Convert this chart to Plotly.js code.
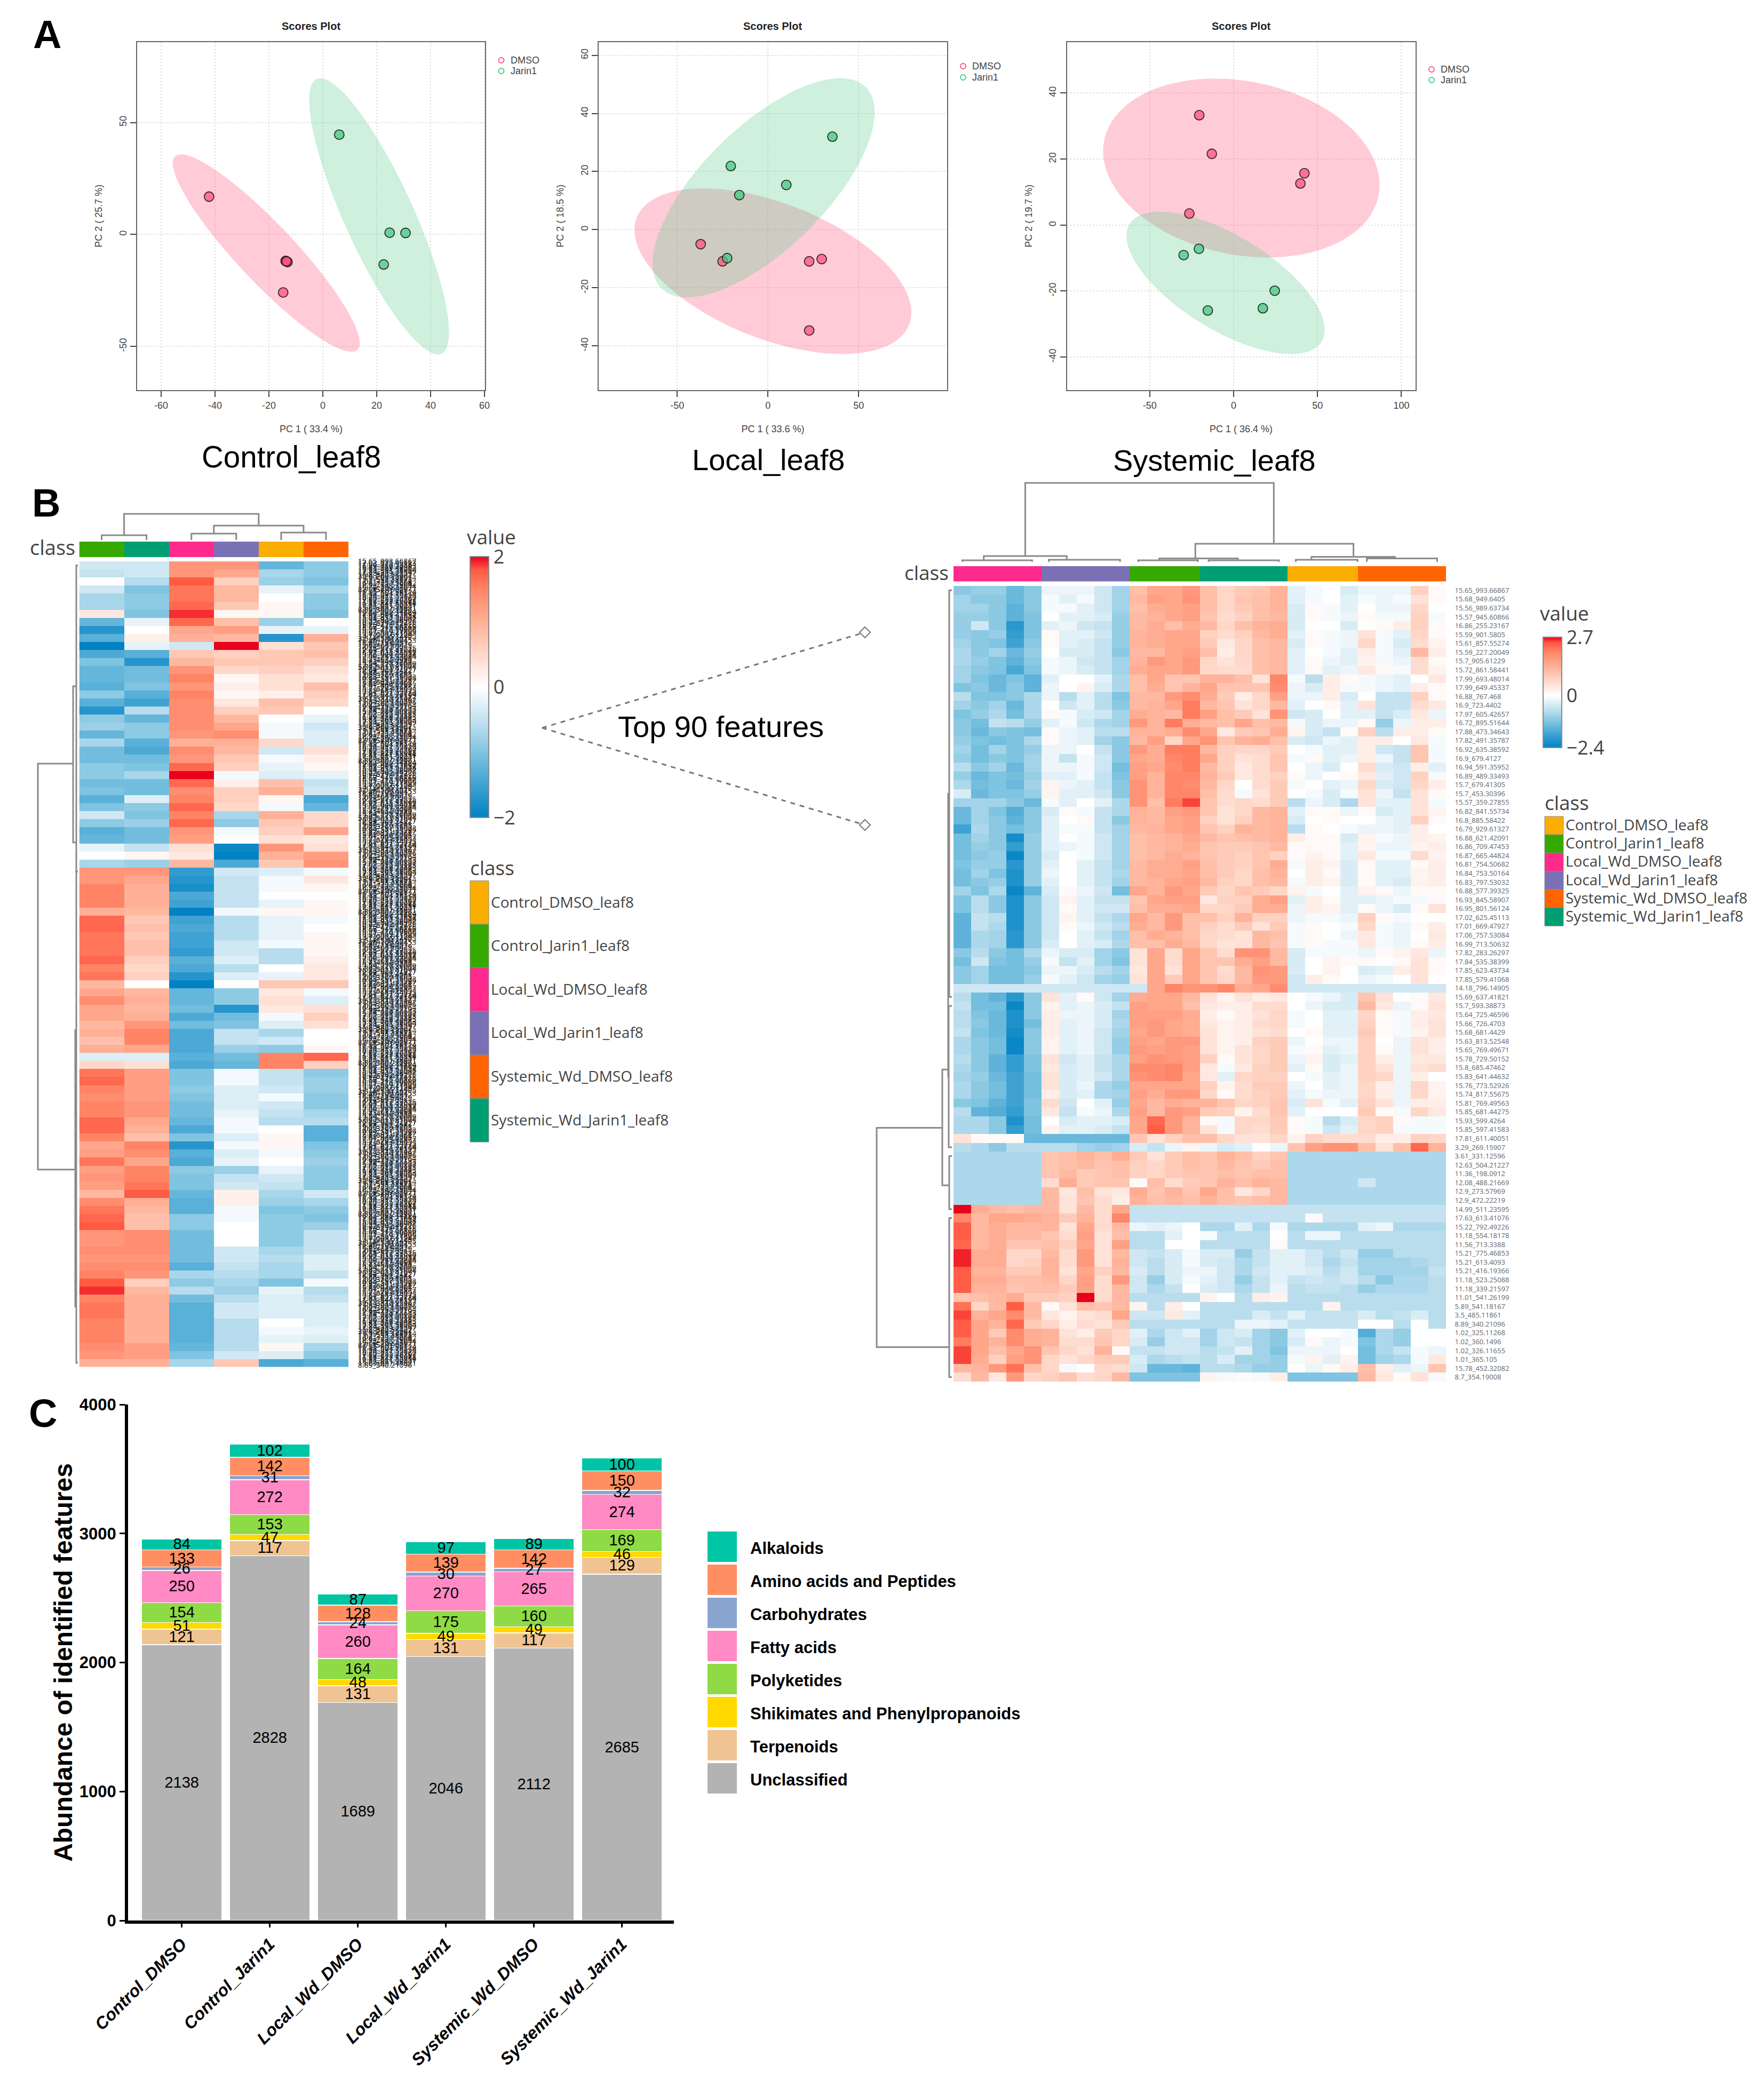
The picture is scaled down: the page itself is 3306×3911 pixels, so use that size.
<!DOCTYPE html>
<html><head><meta charset="utf-8">
<script src="https://cdn.plot.ly/plotly-3.0.1.min.js"></script>
<style>html,body{margin:0;padding:0;background:#fff}</style></head>
<body><div id="chart" style="width:3306px;height:3911px"></div>
<script>
const W=3306,H=3911;
// ---------- Panel A: PCA scores ----------
const pca1DmsoX=[-42.2,-13.8,-13.1,-13.5,-14.7], pca1DmsoY=[16.9,-11.8,-12.3,-12,-25.9];
const pca1JarinX=[6.1,24.8,30.7,22.6], pca1JarinY=[44.6,0.8,0.7,-13.4];
const pca2DmsoX=[-37.1,-25,22.7,29.6,22.7], pca2DmsoY=[-5,-10.9,-10.9,-10.1,-34.7];
const pca2JarinX=[35.5,-20.5,10.1,-15.8,-22.5], pca2JarinY=[32,21.9,15.4,11.9,-9.8];
const pca3DmsoX=[-20.5,-13,42.2,39.8,-26.4], pca3DmsoY=[33.3,21.6,15.7,12.6,3.5];
const pca3JarinX=[-20.7,-29.8,24.5,17.4,-15.4], pca3JarinY=[-7.2,-9.1,-19.9,-25.2,-25.9];
// ellipse: centre x, centre y, half width, half height, correlation
const ell1Dmso=[-21,-8.3,34.7,44.1,-0.91], ell1Jarin=[20.9,8.1,25.96,61.7,-0.84];
const ell2Dmso=[2.7,-14.3,76.3,28.5,-0.5], ell2Jarin=[-2.4,14.4,61.2,37.7,0.69];
const ell3Dmso=[4.6,17.3,82.4,27.1,-0.19], ell3Jarin=[-4.8,-17.5,59.1,21.6,-0.66];
// ---------- Panel C: stacked bars ----------
const barGroups=['Control_DMSO','Control_Jarin1','Local_Wd_DMSO','Local_Wd_Jarin1','Systemic_Wd_DMSO','Systemic_Wd_Jarin1'];
const unclassified=[2138,2828,1689,2046,2112,2685];
const terpenoids=[121,117,131,131,117,129];
const shikimates=[51,47,48,49,49,46];
const polyketides=[154,153,164,175,160,169];
const fattyAcids=[250,272,260,270,265,274];
const carbohydrates=[26,31,24,30,27,32];
const aminoAcids=[133,142,128,139,142,150];
const alkaloids=[84,102,87,97,89,100];
const barNames=['Unclassified','Terpenoids','Shikimates and Phenylpropanoids','Polyketides','Fatty acids','Carbohydrates','Amino acids and Peptides','Alkaloids'];
const barColors=['#b3b3b3','#f0c492','#ffd900','#8edb45','#ff8ac4','#8aa4d0','#ff8f63','#00c5a5'];
// ---------- Panel B: class names ----------
const classNames=['Control_DMSO_leaf8','Control_Jarin1_leaf8','Local_Wd_DMSO_leaf8','Local_Wd_Jarin1_leaf8','Systemic_Wd_DMSO_leaf8','Systemic_Wd_Jarin1_leaf8'];
const classColors=['#f9ae00','#36a900','#ff2a8c','#7a70b5','#ff6400','#009e73'];
const leftClassOrder=[1,5,2,3,0,4];
const rightClassOrder=[2,2,2,2,2,3,3,3,3,3,1,1,1,1,5,5,5,5,5,0,0,0,0,4,4,4,4,4];
// left heatmap, values x10, columns in class order
const leftHeatTenths=[
[-4,-4,13,13,-12,-9],[-5,-4,13,11,-7,-9],[0,-6,18,6,-8,-10],[-4,-10,16,9,-2,-7],[-7,-9,16,9,0,-9],
[-7,-9,17,7,1,-9],[3,-10,19,1,1,-10],[-12,-2,17,8,-8,0],[-17,0,11,12,-2,-2],[-13,2,10,9,-17,10],
[-20,-2,-4,20,4,7],[-14,-13,7,6,7,8],[-10,-17,9,7,7,6],[-12,-11,13,5,6,4],[-12,-11,15,1,4,3],
[-13,-10,13,2,4,8],[-9,-13,15,1,2,6],[-13,-15,14,3,8,5],[-17,-6,14,6,7,0],[-9,-12,14,9,0,-2],
[-8,-9,14,11,-1,-4],[-12,-9,13,14,-1,-3],[-7,-13,10,10,5,-3],[-11,-14,14,9,-4,4],[-11,-11,13,7,-1,2],
[-9,-10,17,6,-2,1],[-9,-7,20,-1,-3,-2],[-11,-11,17,2,8,-5],[-10,-11,14,6,10,-4],[-13,-3,15,6,1,-14],
[-10,-9,17,5,-1,-12],[-4,-10,15,-7,10,5],[-9,-8,17,-9,7,5],[-13,-11,13,-1,6,11],[-12,-11,12,0,4,3],
[-2,-5,4,-19,13,4],[0,1,3,-21,10,12],[-7,-8,9,-14,7,13],[13,13,-16,-4,-3,-1],[13,11,-17,-5,-1,3],
[15,10,-18,-5,-1,1],[15,10,-14,-5,0,0],[15,10,-15,-5,-2,1],[10,9,-21,-1,1,1],[17,7,-15,-6,-2,-1],
[17,8,-14,-6,-2,0],[16,7,-15,-6,-2,1],[16,8,-15,-4,-1,1],[16,8,-16,-4,-6,1],[17,6,-13,-3,-6,2],
[15,5,-14,-6,0,3],[16,6,-17,-3,-2,3],[9,0,-21,0,7,7],[11,9,-12,-9,3,-1],[14,10,-12,-9,4,-3],
[11,9,-11,-17,3,4],[11,10,-14,-11,-1,6],[9,13,-11,-10,-3,4],[10,15,-14,-5,-7,0],[8,15,-14,-5,-4,0],
[10,11,-14,-8,-9,1],[-3,-3,-13,-11,15,17],[5,4,-14,-12,15,6],[16,12,-10,-1,-5,-9],[17,12,-10,-1,-5,-8],
[15,12,-9,-3,-4,-8],[14,12,-10,-3,-1,-9],[15,13,-11,-3,-4,-9],[15,13,-11,-2,-5,-7],[17,11,-12,-1,-6,-6],
[17,10,-14,-1,0,-13],[15,8,-10,-3,1,-13],[11,15,-17,-1,1,-10],[12,14,-13,-3,-1,-9],[16,11,-14,-2,0,-8],
[12,15,-9,-8,-2,-9],[13,15,-10,-5,-4,-9],[12,16,-10,-4,-5,-9],[9,18,-12,2,-7,-4],[14,10,-13,2,-8,-7],
[16,9,-13,-1,-10,-9],[17,8,-9,-1,-9,-10],[18,8,-9,0,-9,-8],[13,14,-11,0,-9,-5],[13,14,-11,0,-9,-5],
[14,14,-11,-4,-7,-5],[13,13,-11,-4,-6,-3],[14,14,-13,-5,-7,-3],[15,13,-7,-6,-7,-5],[18,6,-9,-7,-10,-1],
[19,9,-6,-8,-2,-6],[15,10,-11,-6,-3,-5],[16,10,-13,-4,-3,-3],[16,10,-13,-4,-3,-3],[15,10,-13,-6,0,-3],
[15,10,-13,-6,-1,-2],[15,10,-13,-6,-2,-3],[14,12,-12,-6,1,-7],[13,12,-10,-4,-3,-9],[10,10,-7,7,-14,-13]];
// right heatmap (top 90 features), values x10
const rightRowLabels=['15.65_993.66867','15.68_949.6405','15.56_989.63734','15.57_945.60866','16.86_255.23167','15.59_901.5805','15.61_857.55274','15.59_227.20049','15.7_905.61229','15.72_861.58441','17.99_693.48014','17.99_649.45337','16.88_767.468','16.9_723.4402','17.97_605.42657','16.72_895.51644','17.88_473.34643','17.82_491.35787','16.92_635.38592','16.9_679.4127','16.94_591.35952','16.89_489.33493','15.7_679.41305','15.7_453.30396','15.57_359.27855','16.82_841.55734','16.8_885.58422','16.79_929.61327','16.88_621.42091','16.86_709.47453','16.87_665.44824','16.81_754.50682','16.84_753.50164','16.83_797.53032','16.88_577.39325','16.93_845.58907','16.95_801.56124','17.02_625.45113','17.01_669.47927','17.06_757.53084','16.99_713.50632','17.82_283.26297','17.84_535.38399','17.85_623.43734','17.85_579.41068','14.18_796.14905','15.69_637.41821','15.7_593.38873','15.64_725.46596','15.66_726.4703','15.68_681.4429','15.63_813.52548','15.65_769.49671','15.78_729.50152','15.8_685.47462','15.83_641.44632','15.76_773.52926','15.74_817.55675','15.81_769.49563','15.85_681.44275','15.93_599.4264','15.85_597.41583','17.81_611.40051','3.29_269.15907','3.61_331.12596','12.63_504.21227','11.36_198.0912','12.08_488.21669','12.9_273.57969','12.9_472.22219','14.99_511.23595','17.63_613.41076','15.22_792.49226','11.18_554.18178','11.56_713.3388','15.21_775.46853','15.21_613.4093','15.21_416.19366','11.18_523.25088','11.18_339.21597','11.01_541.26199','5.89_541.18167','3.5_485.11861','8.89_340.21096','1.02_325.11268','1.02_360.1496','1.02_326.11655','1.01_365.105','15.78_452.32082','8.7_354.19008'];
const rightHeatTenths=[
[-11,-10,-10,-14,-11,-2,-2,-2,-5,-9,11,15,15,17,11,7,9,10,13,-3,-1,0,-4,-2,-2,-2,8,1],
[-9,-11,-11,-14,-11,-1,-3,-1,-5,-9,12,16,15,18,11,7,10,11,13,-3,-1,0,-3,-1,-2,-1,5,1],
[-9,-9,-11,-15,-11,-1,-1,-3,-5,-9,11,14,15,16,11,7,9,11,13,-4,1,-1,-3,0,-2,-2,7,0],
[-10,-10,-11,-15,-12,0,-3,-3,-4,-10,12,13,15,16,10,6,8,11,12,-4,1,-1,-2,1,-1,-1,8,-1],
[-10,-5,-11,-20,-12,-3,-2,-5,-6,-10,12,14,11,14,12,7,11,13,14,-4,0,0,-4,0,1,3,8,1],
[-10,-11,-10,-19,-12,1,-3,-3,-5,-10,13,14,15,15,8,6,8,12,14,-3,1,-1,-2,5,-1,-3,7,1],
[-9,-11,-12,-18,-11,1,-3,-4,-6,-10,13,14,15,15,9,4,7,11,12,-4,1,-1,-2,7,-1,-4,6,2],
[-8,-11,-9,-14,-10,0,-4,-4,-6,-11,12,12,15,16,11,3,7,11,12,-3,0,-1,-3,3,-1,-3,12,3],
[-8,-10,-12,-15,-11,-1,-2,-5,-6,-9,13,17,15,17,7,5,7,11,12,-3,1,-2,-3,2,-1,-2,6,1],
[-9,-11,-12,-17,-12,-1,-2,-4,-6,-9,14,15,15,17,7,6,6,11,12,-3,1,-3,-2,4,1,-1,6,2],
[-9,-12,-14,-12,-15,-3,0,0,-3,-8,11,15,10,10,13,13,11,5,20,-1,-7,3,1,-1,-2,-3,0,4],
[-12,-11,-14,-11,-15,-2,0,2,-4,-8,11,14,10,13,15,10,10,10,19,-2,-4,3,-1,-1,-2,-3,3,1],
[-7,-12,-12,-11,-8,-2,-7,-3,-7,-12,12,12,17,19,14,9,3,7,16,-2,-2,3,-4,0,-6,-6,8,1],
[-9,-11,-9,-14,-8,0,-5,-3,-7,-11,12,13,15,21,12,10,5,7,12,-3,0,1,-3,5,-6,-6,6,4],
[-12,-10,-8,-13,-8,1,-1,-4,-5,-9,14,13,12,21,16,11,9,5,18,-5,-4,0,-3,-3,-6,-4,4,-2],
[-11,-13,-6,-7,-10,-3,-1,-5,-8,-9,17,13,21,14,12,11,15,11,12,-1,-4,-2,-2,1,-10,-2,3,3],
[-11,-14,-11,-12,-13,1,-2,-3,-7,-7,13,13,14,19,15,4,9,10,14,2,-4,-6,1,8,-7,3,3,1],
[-10,-12,-13,-12,-8,1,-2,-3,-9,-11,12,16,7,15,18,10,13,14,11,-4,-5,-2,-3,3,3,0,4,-1],
[-9,-13,-9,-12,-10,-2,-2,0,-6,-11,17,14,21,21,12,8,7,7,9,0,-1,-3,-3,3,-5,-6,10,-1],
[-10,-13,-11,-12,-9,-2,-6,-1,-5,-11,15,14,20,21,15,8,5,6,10,-1,1,-3,-2,3,-2,-6,10,-1],
[-7,-11,-9,-14,-9,-2,-2,-1,-5,-13,16,15,19,21,12,8,4,6,10,0,-2,-4,0,6,-4,-5,3,-3],
[-10,-14,-12,-13,-10,-3,-3,-1,-6,-12,16,13,20,20,13,9,4,6,8,1,-2,0,1,4,-3,-5,8,-1],
[-8,-13,-12,-14,-9,2,-2,-3,-6,-11,18,13,20,19,12,7,0,6,9,-1,0,-3,-2,7,-4,-5,7,3],
[-4,-14,-12,-12,-10,2,-3,-3,-5,-11,18,13,20,20,11,6,-1,5,9,0,-1,-4,-1,5,-2,-6,5,1],
[-9,-9,-9,-11,-14,-1,-3,0,-3,-8,18,11,21,25,10,6,7,6,9,-7,-2,-4,-8,5,-3,-3,5,-1],
[-14,-9,-12,-16,-11,-4,1,-1,-6,-8,13,12,16,17,10,5,7,12,13,-3,1,1,-2,1,-4,-3,5,2],
[-14,-9,-11,-15,-11,-3,0,1,-6,-11,13,12,15,16,8,5,8,12,13,-4,0,1,0,0,-2,-3,8,1],
[-18,-8,-11,-13,-11,-3,-1,-1,-6,-9,12,13,15,16,10,8,13,12,13,-7,1,0,-1,-2,-2,-3,3,0],
[-13,-9,-11,-22,-10,-3,0,-1,-5,-9,11,12,13,15,12,10,11,12,13,3,1,1,-4,2,-1,-2,3,2],
[-13,-10,-11,-19,-10,-3,-2,-1,-5,-9,11,12,13,14,10,9,9,10,12,1,1,1,-3,2,-2,-2,2,3],
[-13,-11,-10,-23,-10,-4,0,-1,-5,-9,11,12,14,13,10,9,8,10,8,1,2,1,-3,4,-1,-1,6,2],
[-12,-10,-10,-20,-10,-3,0,-3,-6,-9,12,14,14,16,11,9,8,10,14,-1,3,2,-4,1,-3,-3,1,3],
[-13,-9,-12,-21,-10,-2,0,-3,-6,-8,12,14,14,15,11,9,7,11,13,0,3,1,-4,1,-3,-3,2,3],
[-13,-11,-10,-21,-10,-3,0,-3,-6,-9,12,13,15,16,12,8,7,11,12,-1,3,2,-4,1,-3,-4,2,3],
[-9,-12,-8,-23,-15,-4,1,-2,-5,-13,15,13,17,15,9,7,10,9,7,2,-1,0,-3,2,1,-2,1,1],
[-12,-7,-11,-21,-11,-5,2,-3,-6,-6,10,15,16,16,4,8,8,14,16,-3,3,1,-3,-3,-2,-1,-1,1],
[-12,-7,-11,-21,-11,-5,1,-3,-5,-5,11,14,14,15,7,7,9,14,14,-2,3,2,-3,1,-2,-4,1,5],
[-15,-6,-7,-21,-11,-5,2,-3,-6,-8,15,12,17,11,11,8,13,8,8,-2,-1,-1,-2,8,1,-1,0,0],
[-15,-6,-8,-21,-11,-5,1,-2,-5,-7,14,12,17,11,8,6,9,5,9,-1,1,0,-1,7,-1,-2,1,3],
[-15,-8,-9,-20,-11,-5,0,-3,-6,-9,11,14,13,11,7,6,5,12,11,-1,1,0,-2,4,-1,-2,0,4],
[-15,-8,-9,-20,-11,-4,0,-3,-4,-8,11,11,14,12,7,5,5,12,10,-1,1,-1,-1,4,-1,-2,1,3],
[-11,-7,-11,-13,-8,-2,-4,-4,-9,-11,5,15,6,15,10,6,18,18,12,-4,-1,-1,-1,-2,1,2,4,-2],
[-13,-5,-12,-13,-10,-1,-6,-3,-9,-12,5,15,6,15,10,10,14,16,12,-4,0,2,1,1,0,1,5,1],
[-11,-9,-13,-13,-11,-2,-2,-4,-7,-9,4,15,5,15,10,6,12,18,17,-4,0,2,0,-4,-3,3,5,1],
[-11,-9,-13,-13,-10,-1,-3,-5,-9,-10,5,15,9,15,10,7,12,17,17,-5,3,1,0,-2,-1,0,5,0],
[-5,-5,-5,-5,-5,-5,-5,-5,-5,-5,-5,15,20,18,18,20,14,15,19,-5,-5,-5,-5,-5,-5,-5,-5,-5],
[-7,-13,-15,-20,-11,5,-3,1,-5,-9,14,15,15,12,5,2,5,3,4,0,-1,-2,-4,10,5,0,1,4],
[-6,-13,-13,-23,-11,2,-3,-2,-4,-6,16,15,15,11,4,3,3,6,6,0,-2,-4,-4,12,4,-2,1,5],
[-7,-12,-14,-21,-11,3,-2,-2,-4,-9,16,16,16,14,3,1,3,5,7,-1,0,-3,-3,7,1,-1,3,4],
[-7,-11,-14,-21,-13,3,-3,-2,-4,-8,16,17,15,14,4,2,3,6,7,-1,0,-3,-3,8,1,-1,3,5],
[-6,-12,-14,-22,-11,3,-3,-2,-5,-9,15,17,15,14,5,2,3,5,6,0,1,-3,-3,9,1,-1,2,5],
[-8,-11,-13,-23,-11,2,-3,-2,-5,-10,16,15,17,17,5,2,3,8,9,-2,0,-2,-2,8,0,-2,5,3],
[-8,-11,-13,-23,-11,2,-3,-2,-5,-10,17,16,17,16,5,2,5,7,9,-1,1,-3,-2,8,1,-2,5,3],
[-7,-11,-15,-19,-12,5,-5,-3,-6,-8,16,18,17,16,8,1,5,7,9,-2,2,-4,-3,8,3,-2,4,4],
[-8,-11,-15,-19,-12,4,-4,-3,-6,-8,19,19,20,16,4,-1,4,8,9,-3,1,-4,-2,8,5,-2,5,6],
[-9,-10,-14,-18,-13,5,-4,-3,-5,-8,18,19,20,15,4,-3,7,8,8,0,-1,-3,-2,8,7,-2,3,0],
[-8,-11,-13,-18,-13,5,-4,-2,-8,-10,15,15,15,15,8,2,6,9,9,-2,0,-3,-2,7,3,-2,7,2],
[-8,-11,-13,-18,-13,3,-4,-3,-8,-9,16,14,17,17,7,1,6,8,9,-3,-1,-2,-2,7,3,-2,7,2],
[-11,-12,-15,-18,-12,6,-5,0,-3,-10,15,12,14,13,13,10,7,8,10,-4,5,-1,-3,8,5,-2,3,3],
[-7,-15,-16,-19,-12,4,-6,-1,-2,-8,16,12,17,16,9,8,2,6,10,-3,0,0,0,9,1,-1,7,4],
[-8,-8,-11,-21,-13,0,-4,-3,-3,-4,15,23,17,13,1,-1,7,7,9,1,-1,-7,-4,7,8,1,-1,-1],
[-8,-8,-11,-19,-13,2,-3,-3,-4,-6,15,24,17,13,5,-1,7,6,9,1,-1,-5,-3,7,8,-1,-1,-1],
[5,1,1,1,-14,-14,-14,-14,-14,-14,10,5,8,11,11,7,5,5,7,2,8,6,6,6,3,3,8,7],
[-7,-8,-11,-7,-7,-7,-7,-9,-10,-9,-4,-6,-2,2,-2,-4,-3,0,-2,10,16,18,18,11,5,11,23,13],
[-8,-8,-8,-8,-8,10,11,13,11,14,9,5,9,11,10,13,11,8,10,-8,-8,-8,-8,-8,-8,-8,-8,-8],
[-8,-8,-8,-8,-8,10,11,12,10,11,8,7,9,11,10,12,10,9,11,-8,-8,-8,-8,-8,-8,-8,-8,-8],
[-8,-8,-8,-8,-8,10,12,9,10,11,8,7,9,10,10,11,10,11,11,-8,-8,-8,-8,-8,-8,-8,-8,-8],
[-8,-8,-8,-8,-8,6,14,9,10,10,1,11,6,9,10,13,11,13,12,-8,-8,-8,-8,-5,-8,-8,-8,-8],
[-8,-8,-8,-8,-8,12,4,11,5,4,14,10,13,10,15,11,4,7,12,-8,-8,-8,-8,-8,-8,-8,-8,-8],
[-8,-8,-8,-8,-8,12,5,10,6,3,13,11,12,11,13,11,10,11,12,-8,-8,-8,-8,-8,-8,-8,-8,-8],
[27,14,12,11,12,12,5,12,6,15,-6,-6,-6,-6,-6,-6,-6,-6,-6,-6,-6,-6,-6,-6,-6,-6,-6,-6],
[20,12,15,15,14,13,9,13,6,20,-6,-6,-6,-6,-6,-6,-6,-6,-6,-6,1,-6,-6,-6,-6,-6,-6,-6],
[24,12,14,12,12,13,5,15,6,12,-2,-3,-2,0,-8,-8,-3,-8,-1,-8,-8,-8,-8,-3,-2,-8,-8,-8],
[24,12,14,12,12,10,6,16,5,11,-7,-7,-3,0,-1,-7,-7,-7,0,-7,-2,-2,-7,-7,-7,-7,-7,-7],
[23,12,14,10,10,11,8,15,5,16,-7,-7,0,0,-7,-7,-7,-7,1,-7,-7,-7,-7,-7,-7,-7,-7,-7],
[26,14,14,7,7,12,6,17,5,12,-5,-6,-4,-1,-4,-4,-10,-6,-3,-3,-5,-7,-5,-10,-10,-7,-7,-7],
[26,14,14,7,8,13,6,17,5,13,-5,-7,-4,-1,-4,-5,-8,-6,-3,-3,-5,-8,-6,-9,-9,-9,-8,-7],
[24,13,13,9,9,13,5,15,8,12,-4,-7,-4,-2,-2,-5,-8,-5,-3,-3,-4,-7,-5,-9,-9,-9,-9,-6],
[24,14,14,11,11,12,7,16,6,17,-5,-10,-4,-1,-3,-5,-10,-6,-3,-6,-5,-6,-5,-7,-11,-8,-8,-7],
[24,13,13,10,11,11,9,16,6,12,-5,-8,-6,0,-4,-5,-8,-6,-2,-7,-6,-6,-7,-10,-8,-8,-8,-7],
[10,11,12,14,9,9,8,27,6,12,-7,-7,-7,-7,2,0,-7,3,2,-7,-7,-7,-7,-7,-7,-7,-7,-7],
[22,7,12,24,12,1,5,11,10,12,2,-7,3,0,-7,-7,-7,-7,-7,-7,-7,2,-7,-7,-7,-7,-7,-7],
[25,13,15,19,12,4,2,5,6,15,-5,-5,4,-3,-7,-7,-7,-4,-6,-3,-6,-6,-6,-4,-7,-6,-4,-7],
[24,15,13,23,9,7,3,6,5,9,-7,-7,-7,-7,-7,-7,-2,-2,-3,-6,-6,-6,-6,0,0,-7,0,-7],
[24,15,9,19,14,13,5,3,9,7,-3,-8,-5,-3,-9,-5,-4,-9,-11,-3,0,0,-1,-16,-8,-10,0,0],
[21,15,13,19,14,13,6,6,10,7,-4,-10,-5,-5,-9,-5,-6,-9,-11,-4,1,-2,-1,-12,-8,-10,0,0],
[25,15,11,15,18,10,7,5,13,1,-6,-6,-5,-5,-7,-6,-3,-9,-12,-2,-2,-2,0,-13,-8,-6,-1,-2],
[25,14,8,16,18,7,5,7,9,9,-4,-8,-7,-6,-7,-4,-9,-9,-10,-1,2,-3,2,-13,-9,-8,-1,4],
[12,13,17,22,11,7,-1,0,7,6,-5,-14,-14,-15,-7,-7,-8,-10,-10,0,-2,1,3,11,3,-3,-2,10],
[6,12,4,17,7,8,10,6,7,12,-12,-12,-12,-12,2,-1,1,-1,3,-12,-12,-12,-12,12,4,1,5,-1]];
// dendrogram merges: [branch A, branch B, merge height, height of A, height of B]
const leftColMerges=[[0,1,9,0,0],[2,3,12,0,0],[4,5,14,0,0],[2.5,4.5,27,12,14],[0.5,3.5,49,9,27]];
const leftRowMerges=[[0,38,4,1,1],[38,99,4,1,1],[15,34.4,10,4,4],[57.7,92,6,4,4],[24.6,75,76,10,6]];
const rightColMerges=[[0,3.97,4,1,1],[4.92,8.97,5,1,1],[1.22,5.94,12,4,5],[10,13.4,4,1,1],[14,18,4,1,1],[11.2,15.67,7.5,4,4],[18.96,22.47,5,1,1],[23,27,7.5,1,1],[19.85,24.6,10.4,5,7.5],[13.25,22.24,35,7.5,10.4],[3.58,17.71,149,12,35]];
const rightRowMerges=[[0,46,6,1,1],[47,63,7,1,1],[64,70,6,1,1],[71,89,6,1,1],[23,55,8,6,7],[54.2,67.3,19,8,6],[60.8,85.6,142,19,6]];

// ---------- helpers ----------
const dx=(a,b)=>[a/W,b/W], dy=(a,b)=>[1-b/H,1-a/H];
const px=x=>x/W, py=y=>1-y/H;
const FONT='"Liberation Sans",Arial,sans-serif', OPEN='"Open Sans",sans-serif';
const tenths=m=>m.map(r=>r.map(v=>v/10));
function ellipse(e){const xs=[],ys=[],phi=Math.acos(e[4]);
  for(let i=0;i<=90;i++){const t=i/90*2*Math.PI;xs.push(e[0]+e[2]*Math.cos(t));ys.push(e[1]+e[3]*Math.cos(t-phi));}
  return {xs,ys};}
function dendro(m,xa,ya,vertical,w){const a=[],b=[];
  m.forEach(s=>{a.push(s[0],s[0],s[1],s[1],null);b.push(s[3],s[2],s[2],s[4],null);});
  return {type:'scatter',mode:'lines',x:vertical?a:b,y:vertical?b:a,xaxis:xa,yaxis:ya,line:{color:'#8a8a8a',width:w||3},hoverinfo:'skip',showlegend:false};}
function heatScale(zmin,zmax){const z0=-zmin/(zmax-zmin);
  const neg=[[1,'#0082c3'],[.75,'#3fa2d3'],[.5,'#7fc4e0'],[.25,'#c4e2f0'],[0,'#ffffff']];
  const pos=[[.25,'#ffd8ca'],[.5,'#ffb096'],[.75,'#ff8466'],[.9,'#ff5a42'],[1,'#e8001c']];
  return neg.map(s=>[z0*(1-s[0]),s[1]]).concat(pos.map(s=>[z0+(1-z0)*s[0],s[1]]));}
function classScale(){const s=[];classColors.forEach((c,i)=>{s.push([i/6,c],[(i+1)/6,c]);});return s;}
const cb=(x,top,bot,vals,txt)=>({x:px(x),xanchor:'left',xpad:0,ypad:0,y:py(top),yanchor:'top',lenmode:'pixels',len:bot-top,thicknessmode:'pixels',thickness:35,outlinecolor:'#8a8a8a',outlinewidth:2,ticks:'',tickvals:vals,ticktext:txt,tickfont:{family:OPEN,size:36,color:'#444'}});

const PINK='rgba(255,83,123,0.3)',GREEN='rgba(92,205,138,0.3)';
const traces=[];
function pca(n,dX,dY,jX,jY,eD,eJ){const xa='x'+(n==1?'':n),ya='y'+(n==1?'':n);
  const a=ellipse(eD),b=ellipse(eJ);
  traces.push({type:'scatter',mode:'lines',x:a.xs,y:a.ys,fill:'toself',fillcolor:PINK,line:{width:0},xaxis:xa,yaxis:ya,hoverinfo:'skip',showlegend:false});
  traces.push({type:'scatter',mode:'lines',x:b.xs,y:b.ys,fill:'toself',fillcolor:GREEN,line:{width:0},xaxis:xa,yaxis:ya,hoverinfo:'skip',showlegend:false});
  traces.push({type:'scatter',mode:'markers',name:'DMSO',x:dX,y:dY,xaxis:xa,yaxis:ya,marker:{size:18,color:'rgba(255,83,123,0.75)',line:{color:'rgba(20,20,20,0.85)',width:1.8}},showlegend:false});
  traces.push({type:'scatter',mode:'markers',name:'Jarin1',x:jX,y:jY,xaxis:xa,yaxis:ya,marker:{size:18,color:'rgba(70,200,130,0.75)',line:{color:'rgba(20,20,20,0.85)',width:1.8}},showlegend:false});
}
pca(1,pca1DmsoX,pca1DmsoY,pca1JarinX,pca1JarinY,ell1Dmso,ell1Jarin);
pca(2,pca2DmsoX,pca2DmsoY,pca2JarinX,pca2JarinY,ell2Dmso,ell2Jarin);
pca(3,pca3DmsoX,pca3DmsoY,pca3JarinX,pca3JarinY,ell3Dmso,ell3Jarin);

const barSeries=[unclassified,terpenoids,shikimates,polyketides,fattyAcids,carbohydrates,aminoAcids,alkaloids];
const barIdx=barGroups.map((_,k)=>k);
barSeries.forEach((v,i)=>{
  traces.push({type:'bar',name:barNames[i],x:barIdx,y:v,marker:{color:barColors[i],line:{color:'#fff',width:1.5}},xaxis:'x4',yaxis:'y4',showlegend:false,hoverinfo:'x+y+name'});
});
// value labels go above every bar so that narrow segments do not hide them
const running=barGroups.map(()=>0);
barSeries.forEach(v=>{
  const mids=v.map((n,k)=>running[k]+n/2-8);
  v.forEach((n,k)=>{running[k]+=n;});
  traces.push({type:'scatter',mode:'text',x:barIdx,y:mids,text:v.map(String),textposition:'middle center',textfont:{family:FONT,size:29,color:'#000'},xaxis:'x4',yaxis:'y4',showlegend:false,hoverinfo:'skip',cliponaxis:false});
});
// left heatmap block
traces.push({type:'heatmap',z:tenths(leftHeatTenths),zmin:-2,zmax:2,colorscale:heatScale(-2,2),xaxis:'x5',yaxis:'y5',hoverinfo:'skip',colorbar:cb(881,1043,1532,[-2,0,2],['−2','0','2'])});
traces.push({type:'heatmap',z:[leftClassOrder],zmin:-.5,zmax:5.5,colorscale:classScale(),showscale:false,xaxis:'x5',yaxis:'y6',hoverinfo:'skip'});
traces.push(dendro(leftColMerges,'x5','y7',true));
traces.push(dendro(leftRowMerges,'x6','y5',false));
// right heatmap block
traces.push({type:'heatmap',z:tenths(rightHeatTenths),zmin:-2.4,zmax:2.7,colorscale:heatScale(-2.4,2.7),xaxis:'x7',yaxis:'y9',hoverinfo:'skip',colorbar:cb(2892,1194,1401,[-2.4,0,2.7],['−2.4','0','2.7'])});
traces.push({type:'heatmap',z:[rightClassOrder],zmin:-.5,zmax:5.5,colorscale:classScale(),showscale:false,xaxis:'x7',yaxis:'y10',hoverinfo:'skip'});
traces.push(dendro(rightColMerges,'x7','y11',true));
traces.push(dendro(rightRowMerges,'x8','y9',false));

// left block feature labels: illegible in the source, so the known feature names are repeated
const leftLabelCount=480;
const leftLabelVals=[],leftLabelText=[];
for(let i=0;i<leftLabelCount;i++){leftLabelVals.push(i*100/leftLabelCount-.5);leftLabelText.push(rightRowLabels[(i*37)%rightRowLabels.length]);}

const hidden={showgrid:false,zeroline:false,showline:false,showticklabels:false,ticks:''};
function pcaAxis(dom,range,vals,anchor,titleText,isY,title){
  const ax={domain:dom,range:range,anchor:anchor,tickmode:'array',tickvals:vals,ticktext:vals.map(String),ticks:'outside',ticklen:11,tickwidth:2,tickcolor:'#444',
    tickfont:{family:FONT,size:18,color:'#444'},showline:true,mirror:true,linecolor:'#666',linewidth:2,showgrid:true,gridcolor:'#e2e2e2',griddash:'dot',gridwidth:2,zeroline:false,
    title:{text:titleText,font:{family:FONT,size:18,color:'#444'},standoff:title}};
  if(isY) ax.tickangle=-90;
  return ax;}
const layout={width:W,height:H,margin:{l:0,r:0,t:0,b:0},paper_bgcolor:'#fff',plot_bgcolor:'rgba(0,0,0,0)',showlegend:false,barmode:'stack',bargap:.09,
 xaxis:pcaAxis(dx(257,909),[-68.9,60.2],[-60,-40,-20,0,20,40,60],'y','PC 1 ( 33.4 %)',false,29),
 yaxis:pcaAxis(dy(78.6,731),[-69.5,86],[-50,0,50],'x','PC 2 ( 25.7 %)',true,24),
 xaxis2:pcaAxis(dx(1122,1775),[-93.3,98.7],[-50,0,50],'y2','PC 1 ( 33.6 %)',false,29),
 yaxis2:pcaAxis(dy(78.6,731),[-55.2,64.6],[-40,-20,0,20,40,60],'x2','PC 2 ( 18.5 %)',true,24),
 xaxis3:pcaAxis(dx(1999.5,2652.5),[-99.4,108.3],[-50,0,50,100],'y3','PC 1 ( 36.4 %)',false,29),
 yaxis3:pcaAxis(dy(78.6,731),[-50,55.5],[-40,-20,0,20,40],'x3','PC 2 ( 19.7 %)',true,24),
 xaxis4:{domain:dx(240,1263),range:[-.61,5.59],anchor:'y4',tickmode:'array',tickvals:[0,1,2,3,4,5],ticktext:barGroups,tickangle:-45,ticks:'outside',ticklen:7,tickwidth:3,tickcolor:'#000',
   tickfont:{family:FONT,size:32,color:'#000',weight:'bold',style:'italic'},showline:true,linecolor:'#000',linewidth:6,showgrid:false,zeroline:false},
 yaxis4:{domain:dy(2632,3599),range:[0,4000],anchor:'x4',tickmode:'array',tickvals:[0,1000,2000,3000,4000],ticks:'outside',ticklen:10,tickwidth:3,tickcolor:'#000',
   tickfont:{family:FONT,size:31,color:'#000',weight:'bold'},showline:true,linecolor:'#000',linewidth:6,showgrid:false,zeroline:false,
   title:{text:'Abundance of identified features',font:{family:FONT,size:48,color:'#000',weight:'bold'},standoff:0}},
 xaxis5:Object.assign({},hidden,{domain:dx(148.5,653),range:[-.5,5.5],anchor:'y5'}),
 yaxis5:{domain:dy(1052,2561.5),range:[99.5,-.5],anchor:'x5',side:'right',showgrid:false,zeroline:false,showline:false,tickmode:'array',tickvals:leftLabelVals,ticktext:leftLabelText,ticks:'outside',ticklen:14,tickcolor:'rgba(0,0,0,0)',tickfont:{family:OPEN,size:14,color:'#222'}},
 yaxis6:Object.assign({},hidden,{domain:dy(1015,1044),range:[-.5,.5],anchor:'x5'}),
 yaxis7:Object.assign({},hidden,{domain:dy(952,1012),range:[0,60],anchor:'x5'}),
 xaxis6:Object.assign({},hidden,{domain:dx(65,147),range:[82,0],anchor:'y5'}),
 xaxis7:Object.assign({},hidden,{domain:dx(1787,2710),range:[-.5,27.5],anchor:'y9'}),
 yaxis9:{domain:dy(1098,2589),range:[89.5,-.5],anchor:'x7',side:'right',showgrid:false,zeroline:false,showline:false,tickmode:'array',tickvals:rightRowLabels.map((_,i)=>i),ticktext:rightRowLabels,ticks:'outside',ticklen:13,tickcolor:'rgba(0,0,0,0)',tickfont:{family:OPEN,size:13,color:'#666'}},
 yaxis10:Object.assign({},hidden,{domain:dy(1061,1089.5),range:[-.5,.5],anchor:'x7'}),
 yaxis11:Object.assign({},hidden,{domain:dy(900,1054),range:[0,154],anchor:'x7'}),
 xaxis8:Object.assign({},hidden,{domain:dx(1640,1785),range:[145,0],anchor:'y9'}),
 annotations:[],shapes:[]};
function txt(t,x,y,o){o=o||{};layout.annotations.push({text:t,xref:'paper',yref:'paper',x:px(x),y:py(y),xanchor:o.a||'left',yanchor:'middle',showarrow:false,textangle:o.r||0,
  font:{family:o.f||FONT,size:o.s||18,color:o.c||'#000',weight:o.w||'normal'}});}
[['A',60,65],['B',58,943],['C',52,2648]].forEach(l=>txt(l[0],l[1],l[2],{s:74,w:'bold'}));
[[583],[1448],[2326]].forEach(v=>txt('Scores Plot',v[0],49,{a:'center',s:20,w:'bold',c:'#222'}));
txt('Control_leaf8',546,857,{a:'center',s:56.5});
txt('Local_leaf8',1440,861,{a:'center',s:56});
txt('Systemic_leaf8',2276,863,{a:'center',s:56});
[[939.5,113,133],[1805,124,145],[2683,130,150]].forEach(l=>{
  [[l[1],'#ff5a80','DMSO'],[l[2],'#45d08a','Jarin1']].forEach(e=>{
    layout.shapes.push({type:'circle',xref:'paper',yref:'paper',x0:px(l[0]-5),x1:px(l[0]+5),y0:py(e[0]-5),y1:py(e[0]+5),line:{color:e[1],width:2}});
    txt(e[2],l[0]+15,e[0],{s:18,c:'#444'});});});
// class labels
txt('class',143,1025,{a:'right',f:OPEN,s:38,c:'#444'});
txt('class',1780,1072,{a:'right',f:OPEN,s:37,c:'#444'});
txt('value',873,1005,{f:OPEN,s:37,c:'#444'});
txt('class',879,1625,{f:OPEN,s:37,c:'#444'});
txt('value',2884,1148,{f:OPEN,s:37,c:'#444'});
txt('class',2893,1503,{f:OPEN,s:37,c:'#444'});
classNames.forEach((n,i)=>{
  const y0=1650.5+i*81.6;
  layout.shapes.push({type:'rect',xref:'paper',yref:'paper',x0:px(881),x1:px(916),y0:py(y0),y1:py(y0+81.6),fillcolor:classColors[i],line:{color:'#8a8a8a',width:1}});
  txt(n,918,y0+39,{f:OPEN,s:28,c:'#444'});
  const y1=1530+i*34.2;
  layout.shapes.push({type:'rect',xref:'paper',yref:'paper',x0:px(2895),x1:px(2930),y0:py(y1),y1:py(y1+34.2),fillcolor:classColors[i],line:{color:'#8a8a8a',width:1}});
  txt(n,2932,y1+15,{f:OPEN,s:28,c:'#444'});
});
// Top 90 connector
txt('Top 90 features',1351,1362,{a:'center',s:56});
[[1621,1185],[1621,1546]].forEach(p=>{
  layout.shapes.push({type:'line',xref:'paper',yref:'paper',x0:px(1016),y0:py(1364),x1:px(p[0]),y1:py(p[1]),line:{color:'#777',width:3,dash:'dash'}});
  layout.shapes.push({type:'path',xref:'paper',yref:'paper',path:`M ${px(p[0]-10)} ${py(p[1])} L ${px(p[0])} ${py(p[1]-10)} L ${px(p[0]+10)} ${py(p[1])} L ${px(p[0])} ${py(p[1]+10)} Z`,fillcolor:'#fff',line:{color:'#777',width:2}});
});
// bar legend
barNames.slice().reverse().forEach((n,i)=>{
  const c=barColors[7-i],y0=2870+i*62;
  layout.shapes.push({type:'rect',xref:'paper',yref:'paper',x0:px(1326),x1:px(1381),y0:py(y0),y1:py(y0+57),fillcolor:c,line:{width:0}});
  txt(n,1404,y0+31,{s:31,w:'bold'});
});
Plotly.newPlot('chart',traces,layout,{displayModeBar:false,responsive:false});
</script></body></html>
